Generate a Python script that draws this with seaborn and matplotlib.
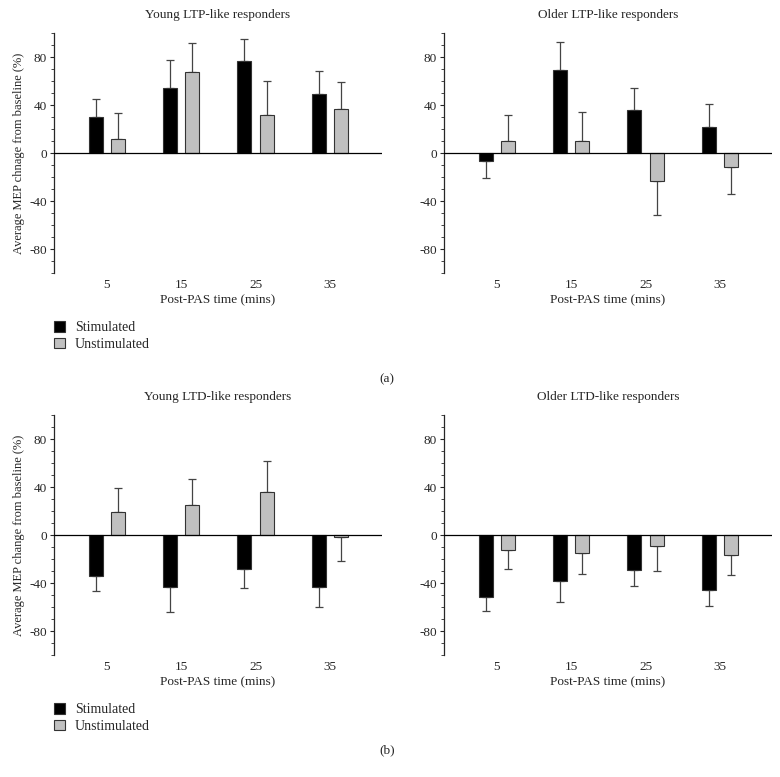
import numpy as np
import pandas as pd
import matplotlib
matplotlib.use("Agg")
import matplotlib.pyplot as plt
import seaborn as sns
from matplotlib.ticker import MultipleLocator

# post-PAS time points (mins)
times = ["5", "15", "25", "35"]
conditions = ["Stimulated", "Unstimulated"]

# mean MEP change (%) and error bar length
young_ltp_stim = [30, 54, 77, 49.5]
young_ltp_stim_err = [15, 23.5, 18, 18.5]
young_ltp_unstim = [12, 67.5, 32, 36.5]
young_ltp_unstim_err = [21.5, 24, 28, 22.5]

older_ltp_stim = [-6.5, 69, 36, 22]
older_ltp_stim_err = [14, 23.5, 18, 19]
older_ltp_unstim = [10, 10, -23.5, -11.5]
older_ltp_unstim_err = [22, 24, 28, 22.5]

young_ltd_stim = [-34, -43.5, -28.5, -43]
young_ltd_stim_err = [13, 21, 16, 17]
young_ltd_unstim = [19.5, 25, 36, -1.5]
young_ltd_unstim_err = [20, 21.5, 26, 20]

older_ltd_stim = [-52, -38.5, -29, -45.5]
older_ltd_stim_err = [11, 17, 13.5, 14]
older_ltd_unstim = [-12.5, -15, -9, -17]
older_ltd_unstim_err = [16, 17.5, 21, 16.5]

panels = [
    ("Young LTP-like responders", young_ltp_stim, young_ltp_stim_err,
     young_ltp_unstim, young_ltp_unstim_err, "Average MEP chnage from baseline (%)"),
    ("Older LTP-like responders", older_ltp_stim, older_ltp_stim_err,
     older_ltp_unstim, older_ltp_unstim_err, None),
    ("Young LTD-like responders", young_ltd_stim, young_ltd_stim_err,
     young_ltd_unstim, young_ltd_unstim_err, "Average MEP change from baseline (%)"),
    ("Older LTD-like responders", older_ltd_stim, older_ltd_stim_err,
     older_ltd_unstim, older_ltd_unstim_err, None),
]

sns.set_style("ticks")
plt.rcParams["font.family"] = ["Liberation Serif", "DejaVu Serif"]
plt.rcParams["axes.unicode_minus"] = False

fig = plt.figure(figsize=(7.8, 7.77), dpi=100)
w, h = 328 / 780, 240 / 777
positions = [
    (54 / 780, 1 - 273 / 777),
    (444 / 780, 1 - 273 / 777),
    (54 / 780, 1 - 655 / 777),
    (444 / 780, 1 - 655 / 777),
]
palette = {"Stimulated": "#000000", "Unstimulated": "#c0c0c0"}

for (title, s, se, u, ue, ylab), (x0, y0) in zip(panels, positions):
    ax = fig.add_axes([x0, y0, w, h])
    df = pd.DataFrame({
        "time": times * 2,
        "condition": [conditions[0]] * 4 + [conditions[1]] * 4,
        "value": s + u,
        "err": se + ue,
    })
    sns.barplot(data=df, x="time", y="value", hue="condition", order=times,
                hue_order=conditions, palette=palette, errorbar=None,
                width=0.6, gap=0.37, linewidth=0.8, edgecolor="#333333",
                legend=ylab is not None, ax=ax, zorder=3)

    # one-sided error bars, pointing away from zero
    for p in ax.patches:
        if p.get_width() == 0:
            continue
        xc = p.get_x() + p.get_width() / 2
        i = int(round(xc))
        cond = conditions[0] if xc < i else conditions[1]
        row = df[(df["time"] == times[i]) & (df["condition"] == cond)].iloc[0]
        v, e = row["value"], row["err"]
        yerr = [[0], [e]] if v >= 0 else [[e], [0]]
        ax.errorbar([xc], [v], yerr=yerr, fmt="none", ecolor="#444444",
                    elinewidth=0.9, capsize=3, capthick=0.9, zorder=2)

    ax.axhline(0, color="black", lw=0.9, zorder=4)
    ax.set_xlim(-0.71, 3.7)
    ax.set_ylim(-100, 100)
    ax.set_yticks([-80, -40, 0, 40, 80])
    ax.yaxis.set_minor_locator(MultipleLocator(10))
    ax.tick_params(axis="y", which="major", length=3, width=0.8, labelsize=9.5, pad=2)
    ax.tick_params(axis="y", which="minor", length=2, width=0.6)
    ax.tick_params(axis="x", length=0, labelsize=9.5, pad=4)
    for sp in ["top", "right", "bottom"]:
        ax.spines[sp].set_visible(False)
    ax.spines["left"].set_linewidth(0.9)
    ax.set_title(title, fontsize=9.5, pad=11)
    ax.set_xlabel("Post-PAS time (mins)", fontsize=9.5, labelpad=3)
    if ylab:
        ax.set_ylabel(ylab, fontsize=9, labelpad=3)
        sns.move_legend(ax, "upper left", bbox_to_anchor=(0.0, -0.2),
                        frameon=False, title=None, fontsize=10,
                        handlelength=0.8, handleheight=0.8, handletextpad=0.7,
                        labelspacing=0.25, borderpad=0, borderaxespad=0)
    else:
        ax.set_ylabel("")

fig.text(387 / 780, 1 - 379 / 777, "(a)", fontsize=9.5, ha="center", va="center")
fig.text(387 / 780, 1 - 750 / 777, "(b)", fontsize=9.5, ha="center", va="center")

fig.savefig("out.png", dpi=100, facecolor="white")
